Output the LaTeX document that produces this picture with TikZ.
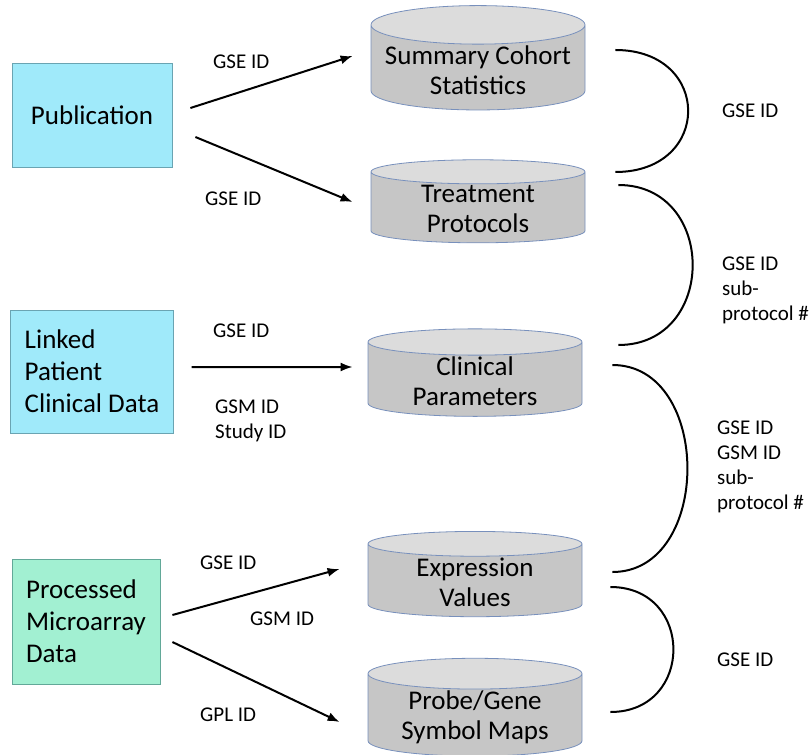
\documentclass[tikz,border=0pt]{standalone}
\usepackage{fontspec}
\setmainfont{Carlito}
\usetikzlibrary{shapes.geometric,arrows.meta}

\definecolor{pubcyan}{HTML}{A0EAFA}
\definecolor{pubedge}{HTML}{6AA4B2}
\definecolor{procgreen}{HTML}{A2F0D2}
\definecolor{procedge}{HTML}{62A898}
\definecolor{dbbody}{HTML}{C6C6C6}
\definecolor{dbtop}{HTML}{DCDCDC}
\definecolor{dbedge}{HTML}{7890BC}

\begin{document}
\begin{tikzpicture}[x=1pt,y=-1pt,
    source/.style ={rectangle, draw=pubedge, fill=pubcyan, thick,
      font=\fontsize{27}{32}\selectfont, align=left, inner xsep=14pt},
    database/.style ={cylinder, shape border rotate=90, aspect=0.2,
      draw=dbedge, thick, cylinder uses custom fill,
      cylinder body fill=dbbody, cylinder end fill=dbtop,
      minimum width=214pt, inner ysep=1pt,
      execute at begin node={\rule{0pt}{32pt}},
      font=\fontsize{27}{30}\selectfont, align=center},
    idlabel/.style ={anchor=west, font=\fontsize{21}{25}\selectfont, align=left, inner sep=0pt},
    flow/.style ={-{Latex[length=12pt,width=9pt]}, line width=2pt},
    link/.style ={line width=2pt}]
   \useasboundingbox (0,0) rectangle (809,755);

   \node[source, minimum width=160pt, minimum height=104pt] (pub) at (92,115) {Publication};
   \node[source, minimum width=160pt, minimum height=123pt] (lnk) at (92,371.5) {Linked\\Patient\\Clinical Data};
   \node[source, draw=procedge, fill=procgreen, minimum width=148pt, minimum height=125pt] (proc) at (86,621.5) {Processed\\Microarray\\Data};

   \node[database] (sum) at (478,70)  {Summary Cohort\\Statistics};
   \node[database] (trt) at (478,209) {Treatment\\Protocols};
   \node[database] (cln) at (475,381) {Clinical\\Parameters};
   \node[database] (expr) at (475,582) {Expression\\Values};
   \node[database] (prb) at (475,717) {Probe/Gene\\Symbol Maps};

   \draw[flow] ([shift={(18,-7)}]pub.east) -- ([shift={(-18,-14)}]sum.west);
   \draw[flow] ([shift={(23,22)}]pub.east) -- ([shift={(-18,-7)}]trt.west);
   \draw[flow] ([shift={(18,-4.5)}]lnk.east) -- ([shift={(-15,-14)}]cln.west);
   \draw[flow] ([shift={(12,-6.5)}]proc.east) -- ([shift={(-28,-13)}]expr.west);
   \draw[flow] ([shift={(12,20.5)}]proc.east) -- ([shift={(-28,5)}]prb.west);

   \node[idlabel] (l1) at (213,62)  {GSE ID};
   \node[idlabel] (l2) at (205,199) {GSE ID};
   \node[idlabel] (l3) at (213,331) {GSE ID};
   \node[idlabel] (l4) at (215,421) {GSM ID\\Study ID};
   \node[idlabel] (l5) at (200,563) {GSE ID};
   \node[idlabel] (l6) at (250,619) {GSM ID};
   \node[idlabel] (l7) at (200,715) {GPL ID};

   % joins between the tables
   \draw[link] ([shift={(30,-20)}]sum.east) .. controls +(97,0) and +(97,0) .. ([shift={(30,-37)}]trt.east);
   \draw[link] ([shift={(33,-24)}]trt.east) .. controls +(99,0) and +(99,0) .. ([shift={(36,-36)}]cln.east);
   \draw[link] ([shift={(30,-16)}]cln.east) .. controls +(100,0) and +(100,0) .. ([shift={(30,-10)}]expr.east);
   \draw[link] ([shift={(28,5)}]expr.east) .. controls +(84,0) and +(84,0) .. ([shift={(28,-5)}]prb.east);

   \node[idlabel] (r1) at (722,111) {GSE ID};
   \node[idlabel] (r2) at (722,290) {GSE ID\\sub-\\protocol \#};
   \node[idlabel] (r3) at (717,467) {GSE ID\\GSM ID\\sub-\\protocol \#};
   \node[idlabel] (r4) at (717,660) {GSE ID};
 \end{tikzpicture}
\end{document}
